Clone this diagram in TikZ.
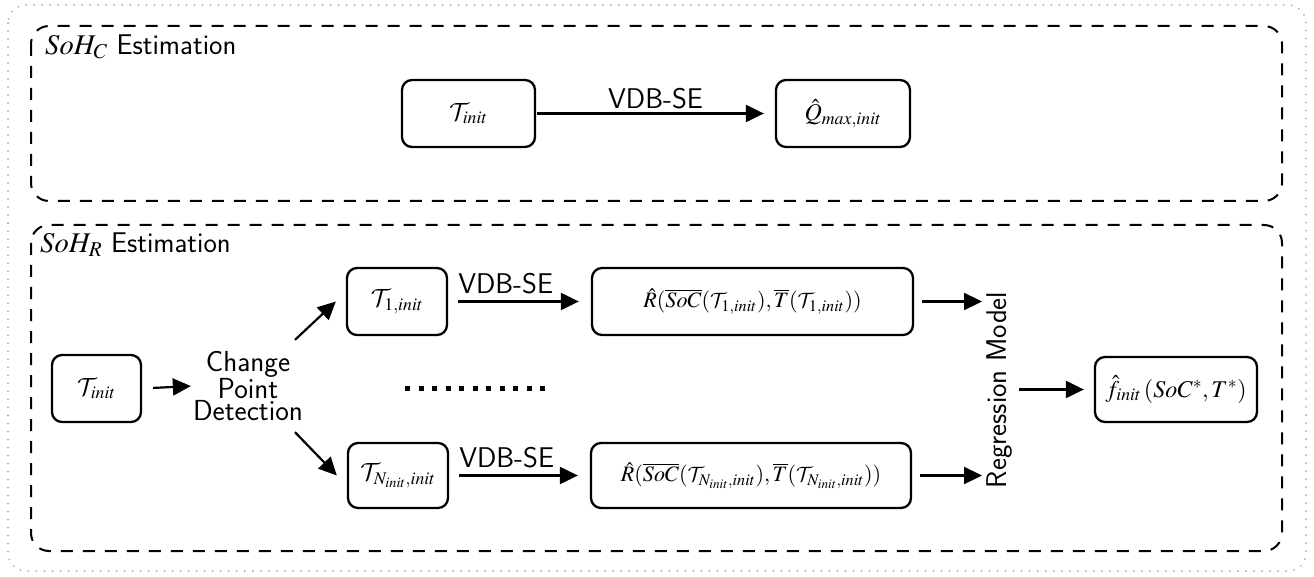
\documentclass[tikz,border=0pt]{standalone}
\usepackage{mathptmx}
\DeclareMathAlphabet{\mathcal}{OMS}{cmsy}{m}{n}
\usetikzlibrary{arrows.meta}
\begin{document}
\begin{tikzpicture}[x=1pt,y=-1pt,
  box/.style={draw, line width=2.3pt, rounded corners=10pt, inner sep=0pt, align=center, font=\fontsize{24}{28}\selectfont},
  arr/.style={-{Triangle[length=18pt,width=17pt]}, line width=2.2pt},
  lbl/.style={font=\sffamily\fontsize{28.5}{30}\selectfont},
  grp/.style={draw, dash pattern=on 12pt off 10pt, line width=2pt, rounded corners=18pt},
  outerbox/.style={draw=gray!65, line width=2pt, dash pattern=on 0.01pt off 8pt, line cap=round, rounded corners=18pt}]
\useasboundingbox (0,0) rectangle (1314,577);
\draw[outerbox] (8,5) rectangle (1306,571);
\draw[grp] (31,26) rectangle (1282,201);
\draw[grp] (31,225) rectangle (1282,551);
% labels
\node[lbl, anchor=west, inner sep=0pt] (lc) at (45,47) {$SoH_C$ Estimation};
\node[lbl, anchor=west, inner sep=0pt] (lr) at (40,245) {$SoH_R$ Estimation};
% top row
\node[box, minimum width=133pt, minimum height=67pt] (ti) at (468.5,113.5) {$\mathcal{T}_{init}$};
\node[box, minimum width=134pt, minimum height=67pt] (q) at (843,113.5) {$\hat{Q}_{max,init}$};
\draw[arr, shorten <=1pt, shorten >=11pt] (ti.east) -- node[lbl, above, inner sep=3pt] {VDB-SE} (q.west);
% bottom
\node[box, minimum width=89pt, minimum height=67pt] (tb) at (96.5,388.5) {$\mathcal{T}_{init}$};
\node[lbl, align=center, font=\sffamily\fontsize{29}{22.5}\selectfont, inner sep=1pt] (cpd) at (248,386) {Change\\Point\\Detection};
\draw[arr, shorten <=11pt, shorten >=1pt] (tb.east) -- (cpd.west);
\node[box, minimum width=100pt, minimum height=67pt] (t1) at (397,301.5) {$\mathcal{T}_{1,init}$};
\node[box, minimum width=100pt, minimum height=65pt] (tn) at (398,475.5) {$\mathcal{T}_{N_{init},init}$};
\node[box, minimum width=321pt, minimum height=67pt, font=\fontsize{22}{26}\selectfont] (r1) at (752.5,301.5) {$\hat{R}(\overline{SoC}(\mathcal{T}_{1,init}),\overline{T}(\mathcal{T}_{1,init}))$};
\node[box, minimum width=320pt, minimum height=65pt, font=\fontsize{22}{26}\selectfont] (rn) at (751,475.5) {$\hat{R}(\overline{SoC}(\mathcal{T}_{N_{init},init}),\overline{T}(\mathcal{T}_{N_{init},init}))$};
\node[box, minimum width=162pt, minimum height=65pt] (f) at (1176,389.5) {$\hat{f}_{init}\,(SoC^{*},T^{*})$};
\node[lbl, rotate=90, inner sep=2pt] (rm) at (1000,390) {Regression Model};
\draw[arr] ([xshift=47pt,yshift=10pt]cpd.north) -- ([xshift=-10pt]t1.west);
\draw[arr] ([xshift=47pt,yshift=-10pt]cpd.south) -- ([xshift=-10pt]tn.west);
\draw[arr, shorten <=10pt, shorten >=12pt] (t1.east) -- node[lbl, pos=0, above right, inner sep=0pt, xshift=9pt, yshift=6pt] {VDB-SE} (r1.west);
\draw[arr, shorten <=10pt, shorten >=12pt] (tn.east) -- node[lbl, pos=0, above right, inner sep=0pt, xshift=9pt, yshift=6pt] {VDB-SE} (rn.west);
\draw[arr, shorten <=8pt, shorten >=3pt] (r1.east) -- (r1.east -| rm.north);
\draw[arr, shorten <=8pt, shorten >=3pt] (rn.east) -- (rn.east -| rm.north);
\draw[arr, shorten <=4pt, shorten >=10pt] (rm.south |- f.west) -- (f.west);
\draw[line width=5pt, dash pattern=on 5pt off 8.5pt] (405,388) -- (545,388);
\end{tikzpicture}
\end{document}
